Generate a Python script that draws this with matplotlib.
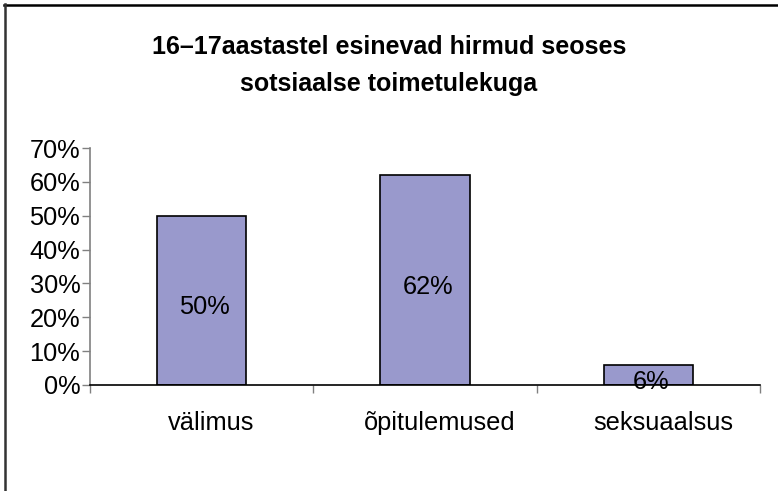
import matplotlib
matplotlib.use("Agg")
import matplotlib.pyplot as plt
import matplotlib.transforms as mtransforms
from matplotlib.lines import Line2D
from matplotlib.ticker import FixedLocator, FuncFormatter

categories = ["välimus", "õpitulemused", "seksuaalsus"]
values = [50, 62, 6]
value_labels = ["50%", "62%", "6%"]
yticks = [0, 10, 20, 30, 40, 50, 60, 70]
title_lines = ["16–17aastastel esinevad hirmud seoses", "sotsiaalse toimetulekuga"]

plt.rcParams['font.family'] = ['Liberation Sans', 'DejaVu Sans']

FS = 18.3
W, H = 778, 491
fig = plt.figure(figsize=(W / 100, H / 100), dpi=100)
ax = fig.add_axes([90 / W, (H - 385) / H, (760 - 90) / W, (385 - 148) / H])

x = list(range(len(categories)))
ax.bar(x, values, width=0.4, color="#9999CC", edgecolor="black", linewidth=1.2, zorder=2)
for xi, v, lab in zip(x, values, value_labels):
    ax.annotate(lab, (xi, v / 2), xytext=(3, -14), textcoords="offset pixels",
                ha="center", va="baseline", fontsize=FS, color="black", zorder=3)

ax.set_xlim(-0.5, len(categories) - 0.5)
ax.set_ylim(0, 70)
ax.set_yticks(yticks)
ax.yaxis.set_major_formatter(FuncFormatter(lambda v, p: f"{int(v)}%"))
ax.tick_params(axis="y", direction="out", length=6, width=1, color="#808080", pad=1, labelsize=FS)

ax.xaxis.set_major_locator(FixedLocator([i - 0.5 for i in range(len(categories) + 1)]))
ax.xaxis.set_minor_locator(FixedLocator(x))
ax.set_xticklabels([], minor=False)
ax.set_xticklabels(categories, minor=True)
ax.tick_params(axis="x", which="major", direction="out", length=6, width=1, color="#808080")
ax.tick_params(axis="x", which="minor", length=0, pad=19, labelsize=FS)

# small rightward shift of category labels, as in the original rendering
shifts_px = [9.5, 15, 15]
for lbl, dx in zip(ax.xaxis.get_minorticklabels(), shifts_px):
    lbl.set_transform(lbl.get_transform() + mtransforms.Affine2D().translate(dx, 0))

for s in ["top", "right"]:
    ax.spines[s].set_visible(False)
ax.spines["left"].set_color("#808080")
ax.spines["left"].set_linewidth(1.2)
ax.spines["bottom"].set_color("black")
ax.spines["bottom"].set_linewidth(1.2)

fig.text(0.5, 1 - 47 / H, title_lines[0], ha="center", va="center", fontsize=18, fontweight="bold")
fig.text(0.5, 1 - 84 / H, title_lines[1], ha="center", va="center", fontsize=18, fontweight="bold")

fig.add_artist(Line2D([4 / W, 1], [1 - 4.5 / H, 1 - 4.5 / H], color="black", lw=1.8, transform=fig.transFigure))
fig.add_artist(Line2D([4.5 / W, 4.5 / W], [0, 1 - 4 / H], color="#333333", lw=1.8, transform=fig.transFigure))

fig.savefig("out.png", dpi=100, facecolor="white")
